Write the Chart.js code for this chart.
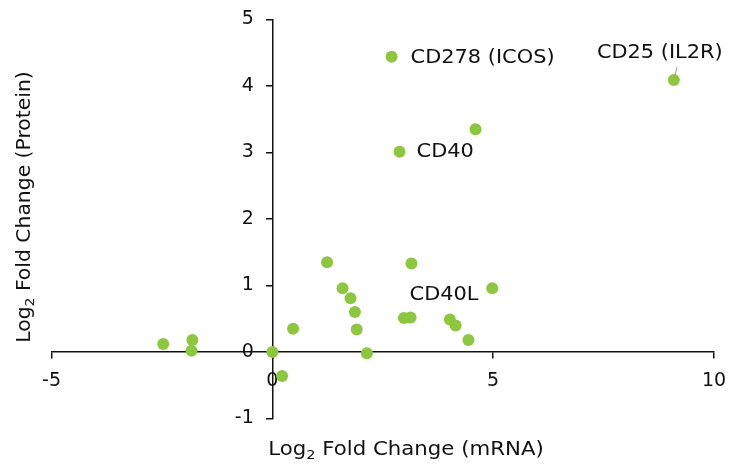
<!DOCTYPE html>
<html>
<head>
<meta charset="utf-8">
<script src="https://cdn.jsdelivr.net/npm/chart.js@4.4.1/dist/chart.umd.min.js"></script>
<style>
  html, body { margin: 0; padding: 0; background: #ffffff; }
  #wrap { width: 738px; height: 464px; }
</style>
</head>
<body>
<div id="wrap"><canvas id="c" width="738" height="464"></canvas></div>
<script>
// ---- data ----
const mrnaLog2 = [2.70, 9.09, 4.60, 2.88, 1.24, 3.15, 1.59, 1.77, 1.87, 1.91, 0.47, 0.00, 2.14, 0.22, 2.98, 3.13, 4.02, 4.15, 4.44, 4.98, -2.47, -1.81, -1.83];
const proteinLog2 = [4.44, 4.09, 3.35, 3.01, 1.35, 1.33, 0.96, 0.81, 0.60, 0.34, 0.35, 0.00, -0.02, -0.36, 0.51, 0.52, 0.49, 0.40, 0.18, 0.96, 0.12, 0.18, 0.02];
const labelNames = ["CD278 (ICOS)", "CD25 (IL2R)", "CD40", "CD40L"];
const labelPointIndex = [0, 1, 3, 15];
const xTickValues = [-5, 0, 5, 10];
const yTickValues = [-1, 0, 1, 2, 3, 4, 5];
const xTitle = ["Log", "2", " Fold Change (mRNA)"];
const yTitle = ["Log", "2", " Fold Change (Protein)"];

// ---- styles ----
const FONT = "'DejaVu Sans', sans-serif";
const INK = "#111111";
const GREEN = "#8dc63f";

const points = mrnaLog2.map((x, i) => ({ x: x, y: proteinLog2[i] }));

// label placement (pixel offsets from the labelled point)
const labelStyle = [
  { dx: 19, dy: 1, align: "left" },
  { dx: -14, dy: -27, align: "center", leader: true },
  { dx: 17, dy: 0, align: "left" },
  { dx: -1, dy: -22, align: "left" }
];

function drawSubText(ctx, parts, size) {
  // parts: [main, sub, rest]; drawn centered at origin
  const mainFont = size + "px " + FONT;
  const subFont = Math.round(size * 0.68) + "px " + FONT;
  ctx.font = mainFont;
  const w0 = ctx.measureText(parts[0]).width;
  const w2 = ctx.measureText(parts[2]).width;
  ctx.font = subFont;
  const w1 = ctx.measureText(parts[1]).width;
  const total = w0 + w1 + w2;
  let x = -total / 2;
  ctx.textAlign = "left";
  ctx.textBaseline = "middle";
  ctx.font = mainFont;
  ctx.fillText(parts[0], x, 0);
  x += w0;
  ctx.font = subFont;
  ctx.fillText(parts[1], x, size * 0.32);
  x += w1;
  ctx.font = mainFont;
  ctx.fillText(parts[2], x, 0);
}

const overlay = {
  id: "overlay",
  afterDatasetsDraw(chart) {
    const ctx = chart.ctx;
    const xs = chart.scales.x, ys = chart.scales.y;
    ctx.save();
    ctx.fillStyle = INK;
    // point labels
    labelNames.forEach((name, k) => {
      const p = points[labelPointIndex[k]];
      const st = labelStyle[k];
      const px = xs.getPixelForValue(p.x), py = ys.getPixelForValue(p.y);
      if (st.leader) {
        ctx.strokeStyle = "#9a9a9a";
        ctx.lineWidth = 1;
        ctx.beginPath();
        ctx.moveTo(px + 3, py - 13);
        ctx.lineTo(px + 1, py - 2);
        ctx.stroke();
      }
      ctx.save();
      ctx.translate(px + st.dx, py + st.dy);
      ctx.scale(1.1, 1);
      ctx.font = "19px " + FONT;
      ctx.textAlign = st.align;
      ctx.textBaseline = "middle";
      ctx.fillText(name, 0, 0);
      ctx.restore();
    });
    // axis titles
    ctx.save();
    ctx.translate(406, 450);
    ctx.scale(1.12, 1);
    drawSubText(ctx, xTitle, 19);
    ctx.restore();
    ctx.save();
    ctx.translate(25, 207);
    ctx.rotate(-Math.PI / 2);
    ctx.scale(1.07, 1);
    drawSubText(ctx, yTitle, 19);
    ctx.restore();
    ctx.restore();
  }
};

const tickFont = { family: FONT, size: 19 };

new Chart(document.getElementById("c"), {
  type: "scatter",
  data: {
    datasets: [{
      data: points,
      xAxisID: "x",
      yAxisID: "y",
      backgroundColor: GREEN,
      borderWidth: 0,
      pointRadius: 6,
      pointHoverRadius: 6,
      clip: false
    }]
  },
  options: {
    responsive: false,
    animation: false,
    devicePixelRatio: 1,
    layout: { padding: { left: 51.5, right: 24, top: 19.5, bottom: 45.5 } },
    plugins: { legend: { display: false }, tooltip: { enabled: false } },
    scales: {
      x: {
        type: "linear",
        min: -5, max: 10,
        position: { y: 0 },
        afterBuildTicks: s => { s.ticks = xTickValues.map(v => ({ value: v })); },
        afterFit: s => { s.height = 0; s.paddingLeft = 0; s.paddingRight = 0; },
        ticks: { color: INK, font: tickFont, padding: 12, maxRotation: 0 },
        grid: { drawOnChartArea: false, drawTicks: true, tickLength: 6, color: INK, lineWidth: 1.5 },
        border: { display: true, color: INK, width: 1.5 }
      },
      y: {
        type: "linear",
        min: -1, max: 5,
        position: { x: 0 },
        afterBuildTicks: s => { s.ticks = yTickValues.map(v => ({ value: v })); },
        afterFit: s => { s.width = 0; s.paddingTop = 0; s.paddingBottom = 0; },
        ticks: { display: false },
        grid: { drawOnChartArea: false, drawTicks: true, tickLength: 6, color: INK, lineWidth: 1.5 },
        border: { display: true, color: INK, width: 1.5 }
      },
      yLabels: {
        type: "linear",
        axis: "y",
        min: -1, max: 5,
        position: { x: -0.42 },
        afterBuildTicks: s => { s.ticks = yTickValues.map(v => ({ value: v })); },
        afterFit: s => { s.width = 0; s.paddingTop = 0; s.paddingBottom = 0; },
        ticks: { color: INK, font: tickFont },
        grid: { display: false },
        border: { display: false }
      }
    }
  },
  plugins: [overlay]
});
</script>
</body>
</html>
